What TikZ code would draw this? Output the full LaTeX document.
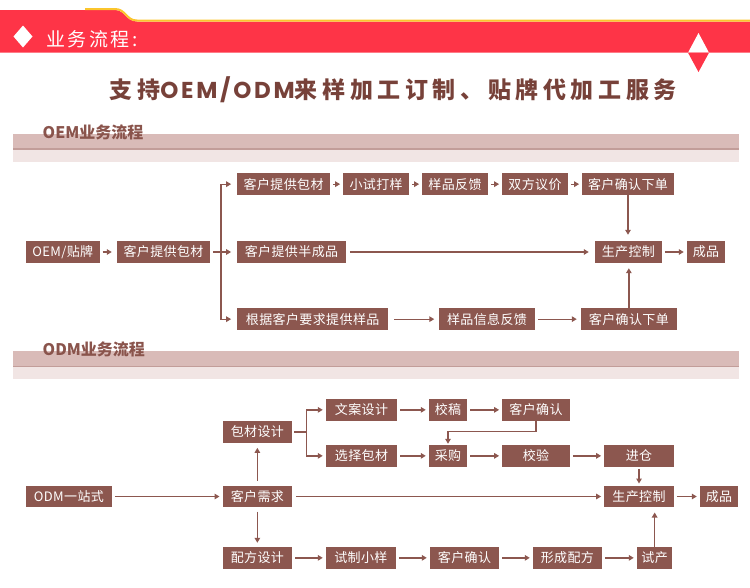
\documentclass[tikz,border=0pt]{standalone}
\usepackage{fontspec}
\usetikzlibrary{arrows.meta,calc}
\setmainfont{Noto Sans CJK SC}
\newfontfamily\boxfont{Noto Sans CJK SC}[LetterSpace=3]
\newfontfamily\titlefont{Noto Sans CJK SC}[LetterSpace=20]
\newfontfamily\latinfont{Poppins}[LetterSpace=12]
\newfontfamily\hdrfont{Noto Sans CJK SC}[LetterSpace=13]
\newfontfamily\secfont{Noto Sans CJK SC}
\definecolor{redc}{HTML}{FE3447}
\definecolor{yelc}{HTML}{FBC52C}
\definecolor{boxc}{HTML}{8C574F}
\definecolor{linec}{HTML}{8C574F}
\definecolor{titlec}{HTML}{774139}
\definecolor{secc}{HTML}{8A544C}
\definecolor{bandA}{HTML}{D9BBB8}
\definecolor{bandL}{HTML}{C29D99}
\definecolor{bandB}{HTML}{F1E5E4}
\tikzset{
  bx/.style={fill=boxc, text=white, inner sep=0pt, font=\boxfont\fontsize{13}{15}\selectfont},
  arr/.style={draw=linec, line width=1.3pt, -{Triangle[length=5pt,width=5.5pt]}, shorten >=3pt, shorten <=3pt},
  ln/.style={draw=linec, line width=1.3pt},
  sec/.style={anchor=west, inner sep=0pt, text=secc, font=\secfont\bfseries\fontsize{16}{18}\selectfont}
}
\newcommand\mybox[6]{\node[bx, minimum width={(#3-#2)*1pt}, minimum height={(#5-#4)*1pt}] (#1) at ({(#2+#3)/2},{(#4+#5)/2}) {#6};}
\begin{document}
\begin{tikzpicture}[x=1pt,y=-1pt]
\useasboundingbox (0,0) rectangle (750,587);
% header band
\fill[redc] (0,10) -- (115,10) .. controls (125,10) and (126,21.5) .. (137,21.5) -- (750,21.5) -- (750,52.7) -- (0,52.7) -- cycle;
\draw[yelc, line width=2pt] (85,9) -- (115,9) .. controls (126,9) and (126,20.5) .. (137,20.5) -- (750,20.5);
\fill[white] (23,25.5) -- (32.5,36.5) -- (23,47.5) -- (13.5,36.5) -- cycle;
\node[anchor=west, inner sep=0pt, text=white, font=\hdrfont\fontsize{19}{21}\selectfont] (hdr) at (46,39) {业务流程:};
\fill[white] (698.5,33) -- (709,52.7) -- (688,52.7) -- cycle;
\fill[redc] (688,52.7) -- (709,52.7) -- (698.5,72) -- cycle;
% main title
\node[anchor=west, inner sep=0pt, text=titlec, font=\titlefont\bfseries\fontsize{23}{26}\selectfont] (title) at (109.5,89.5) {支持{\latinfont\bfseries OEM/ODM}来样加工订制、贴牌代加工服务};
% OEM section band
\fill[bandA] (13,134) rectangle (739,148.3);
\fill[bandL] (13,148.3) rectangle (739,150);
\fill[bandB] (13,150) rectangle (739,161.7);
\node[sec] (oemt) at (42.5,132.5) {OEM业务流程};
% ODM section band
\fill[bandA] (13,351) rectangle (739,365.7);
\fill[bandL] (13,365.7) rectangle (739,367.3);
\fill[bandB] (13,367.3) rectangle (739,379);
\node[sec] (odmt) at (42.5,349) {ODM业务流程};
% OEM boxes
\mybox{o1}{26}{99.5}{241}{263}{OEM/贴牌}
\mybox{o2}{117}{210}{241}{263}{客户提供包材}
\mybox{a1}{237.3}{330}{173.3}{195}{客户提供包材}
\mybox{a2}{343.3}{409}{173.3}{195}{小试打样}
\mybox{a3}{422.3}{487.7}{173.3}{195}{样品反馈}
\mybox{a4}{502.3}{567.7}{173.3}{195}{双方议价}
\mybox{a5}{582.3}{673.7}{173.3}{195}{客户确认下单}
\mybox{b1}{237.3}{345.7}{241}{263}{客户提供半成品}
\mybox{pc}{595}{661.7}{241}{263}{生产控制}
\mybox{fp}{687}{725}{241}{263}{成品}
\mybox{c1}{237.3}{388}{308.3}{330}{根据客户要求提供样品}
\mybox{c2}{439}{535}{308.3}{330}{样品信息反馈}
\mybox{c3}{581}{676.7}{308.3}{330}{客户确认下单}
% OEM connectors
\draw[arr, shorten >=5pt] (o1) -- (o2);
\coordinate (fk) at ($(o2.east)+(10.7,0)$);
\draw[ln, shorten <=3pt] (o2.east) -- (fk);
\draw[arr, shorten <=0pt, shorten >=6pt] (fk) |- (a1.west);
\draw[arr, shorten <=0pt, shorten >=6pt] (fk) -- (b1.west);
\draw[arr, shorten <=0pt, shorten >=6pt] (fk) |- (c1.west);
\draw[arr] (a1) -- (a2);
\draw[arr] (a2) -- (a3);
\draw[arr] (a3) -- (a4);
\draw[arr] (a4) -- (a5);
\draw[arr, shorten <=4pt, shorten >=6pt] (b1) -- (pc);
\draw[arr, shorten <=0pt, shorten >=6pt] (a5.south) -- (a5.south |- pc.north);
\draw[arr] (pc) -- (fp);
\draw[arr, shorten <=6pt, shorten >=4.5pt] (c1) -- (c2);
\draw[arr, shorten >=4pt] (c2) -- (c3);
\draw[arr, shorten <=0pt, shorten >=5pt] (c3.north) -- (c3.north |- pc.south);
% ODM boxes
\mybox{d1}{26}{111.7}{485.7}{507.3}{ODM一站式}
\mybox{d2}{222.7}{292}{485.7}{507.3}{客户需求}
\mybox{e0}{222.7}{292}{421}{442.7}{包材设计}
\mybox{e1}{326}{397}{399}{420.7}{文案设计}
\mybox{e2}{429}{467}{399}{420.7}{校稿}
\mybox{e3}{502.3}{569.7}{399}{420.7}{客户确认}
\mybox{f1}{326}{397}{445}{466.7}{选择包材}
\mybox{f2}{429}{467}{445}{466.7}{采购}
\mybox{f3}{502.3}{569.7}{445}{466.7}{校验}
\mybox{f4}{604.3}{673.7}{445}{466.7}{进仓}
\mybox{pd}{604.3}{673.7}{485.7}{507.3}{生产控制}
\mybox{fd}{700}{738}{485.7}{507.3}{成品}
\mybox{g0}{222.7}{292}{547}{568.7}{配方设计}
\mybox{g1}{326}{395.7}{547}{568.7}{试制小样}
\mybox{g2}{430}{499}{547}{568.7}{客户确认}
\mybox{g3}{533}{601.7}{547}{568.7}{形成配方}
\mybox{g4}{637}{672.3}{547}{568.7}{试产}
% ODM connectors
\draw[arr] (d1) -- (d2);
\draw[arr, shorten <=4pt] (d2) -- (pd);
\draw[arr, shorten <=5pt, shorten >=5pt] (d2) -- (e0);
\draw[arr, shorten <=4pt, shorten >=4pt] (d2) -- (g0);
\coordinate (fk2) at ($(e0.east)+(14,0)$);
\draw[ln, shorten <=2pt] (e0.east) -- (fk2);
\draw[arr, shorten <=0pt] (fk2) |- (e1.west);
\draw[arr, shorten <=0pt] (fk2) |- (f1.west);
\draw[arr] (e1) -- (e2);
\draw[arr] (e2) -- (e3);
\draw[arr, shorten <=0pt, shorten >=1pt] (e3.south) -- ++(0,10.3) -| (f2.north);
\draw[arr] (f1) -- (f2);
\draw[arr] (f2) -- (f3);
\draw[arr] (f3) -- (f4);
\draw[arr, shorten <=2pt, shorten >=2pt] (f4) -- (pd);
\draw[arr] (pd) -- (fd);
\draw[arr] (g0) -- (g1);
\draw[arr] (g1) -- (g2);
\draw[arr] (g2) -- (g3);
\draw[arr] (g3) -- (g4);
\draw[arr, shorten <=0pt, shorten >=5pt] (g4.north) -- (g4.north |- pd.south);
\end{tikzpicture}
\end{document}
